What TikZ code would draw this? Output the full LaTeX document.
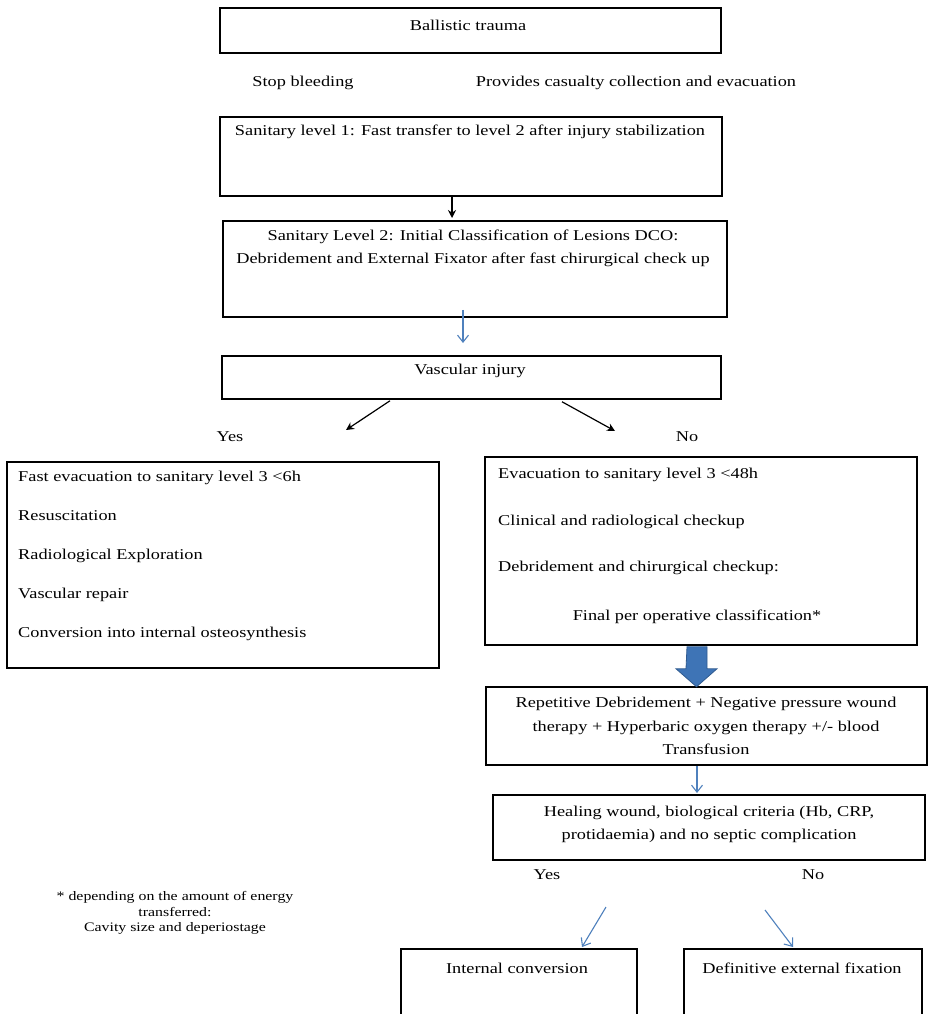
\documentclass[tikz,border=0pt]{standalone}
\usepackage{fontspec}
\setmainfont[FakeStretch=1.22]{Liberation Serif}
\definecolor{linkblue}{HTML}{4F81BD}
\definecolor{blockblue}{HTML}{3E74B6}
\definecolor{blockedge}{HTML}{2F5A8F}
\usetikzlibrary{arrows.meta,positioning,calc}

\begin{document}
\begin{tikzpicture}[x=1pt,y=-1pt,
  box/.style={draw,line width=1.5pt,inner sep=0pt},
  txt/.style={inner sep=0pt,align=center,font=\fontsize{15}{23.5}\selectfont},
  listtxt/.style={inner sep=0pt,align=left,anchor=west},
  darrow/.style={line width=1.2pt,-{Stealth[length=8pt,width=8pt]}},
  barrow/.style={line width=1.1pt,linkblue,-{Straight Barb[length=7pt,width=11pt]}}]
\clip (0,0) rectangle (932,1014);
\fill[white] (0,0) rectangle (932,1014);

\node[box,minimum width=501pt,minimum height=45pt] (trauma) at (470.5,30.5) {};
\node[txt] (traumatxt) at (468,25) {Ballistic trauma};
\node[txt] (stopb) at (303,83) {Stop bleeding};
\node[txt] (collect) at (636,83) {Provides casualty collection and evacuation};

\node[box,minimum width=502pt,minimum height=79pt] (lvlone) at (471,156.5) {};
\node[txt] (lvlonetxt) at (470,132) {Sanitary level 1: Fast transfer to level 2 after injury stabilization};
\node[box,minimum width=504pt,minimum height=96pt] (lvltwo) at (475,269) {};
\node[txt] (lvltwotxt) at (473,248.5) {Sanitary Level 2: Initial Classification of Lesions DCO:\\
  Debridement and External Fixator after fast chirurgical check up};
\node[box,minimum width=499pt,minimum height=43pt] (vasc) at (471.5,377.5) {};
\node[txt] (vasctxt) at (470,371) {Vascular injury};

\node[txt] (yesA) at (230,437) {Yes};
\node[txt] (noA) at (687,437) {No};

\node[box,minimum width=432pt,minimum height=206pt] (fastevac) at (223,565) {};
\node[listtxt,font=\fontsize{15}{39}\selectfont] (fastevactxt) at (18,556) {Fast evacuation to sanitary level 3 <6h\\
  Resuscitation\\ Radiological Exploration\\ Vascular repair\\ Conversion into internal osteosynthesis};
\node[box,minimum width=432pt,minimum height=188pt] (slowevac) at (701,551) {};
\node[listtxt,font=\fontsize{15}{46.5}\selectfont] (slowevactxt) at (498,521.5) {Evacuation to sanitary level 3 <48h\\
  Clinical and radiological checkup\\ Debridement and chirurgical checkup:};
\node[txt] (finalcls) at (697,617) {Final per operative classification*};

\node[box,minimum width=441pt,minimum height=78pt] (repdeb) at (706.5,726) {};
\node[txt] (repdebtxt) at (706,726) {Repetitive Debridement + Negative pressure wound\\
  therapy + Hyperbaric oxygen therapy +/- blood\\ Transfusion};
\node[box,minimum width=432pt,minimum height=65pt] (healing) at (709,827.5) {};
\node[txt,font=\fontsize{15}{23}\selectfont] (healingtxt) at (709,824.5) {Healing wound, biological criteria (Hb, CRP,\\
  protidaemia) and no septic complication};
\node[txt] (yesB) at (547,875) {Yes};
\node[txt] (noB) at (813,875) {No};

\node[box,minimum width=236pt,minimum height=81pt] (intconv) at (519,989.5) {};
\node[txt] (intconvtxt) at (517,968) {Internal conversion};
\node[box,minimum width=238pt,minimum height=81pt] (extfix) at (803,989.5) {};
\node[txt] (extfixtxt) at (802,968) {Definitive external fixation};

\node[txt,font=\fontsize{13}{15.5}\selectfont] (note) at (175,913) {* depending on the amount of energy\\
  transferred:\\ Cavity size and deperiostage};

\coordinate (tipone) at (452,218);
\coordinate (tipvasc) at (463,343);
\coordinate (tipyes) at (346,430);
\coordinate (tipno) at (615,431);
\coordinate (tipheal) at (697,793);
\coordinate (tipint) at (582,947);
\coordinate (tipext) at (793,947);

\draw[darrow] (lvlone.south -| tipone) -- (tipone);
\draw[barrow] ($(lvltwo.south)+(-12,-8)$) -- (tipvasc);
\draw[darrow] ($(vasc.south)+(-81.5,1)$) -- (tipyes);
\draw[darrow] ($(vasc.south)+(90.5,2)$) -- (tipno);
\fill[blockblue,draw=blockedge,line width=0.8pt] ($(slowevac.south)+(-14,1)$) -- ++(20,0) -- ++(0,22)
  -- ++(10,0) -- ++(-20.5,18) -- ++(-20.5,-18) -- ++(10,0) -- cycle;
\draw[barrow] (repdeb.south -| tipheal) -- (tipheal);
\draw[barrow] (606,907) -- (tipint);
\draw[barrow] (765,910) -- (tipext);
\end{tikzpicture}
\end{document}
